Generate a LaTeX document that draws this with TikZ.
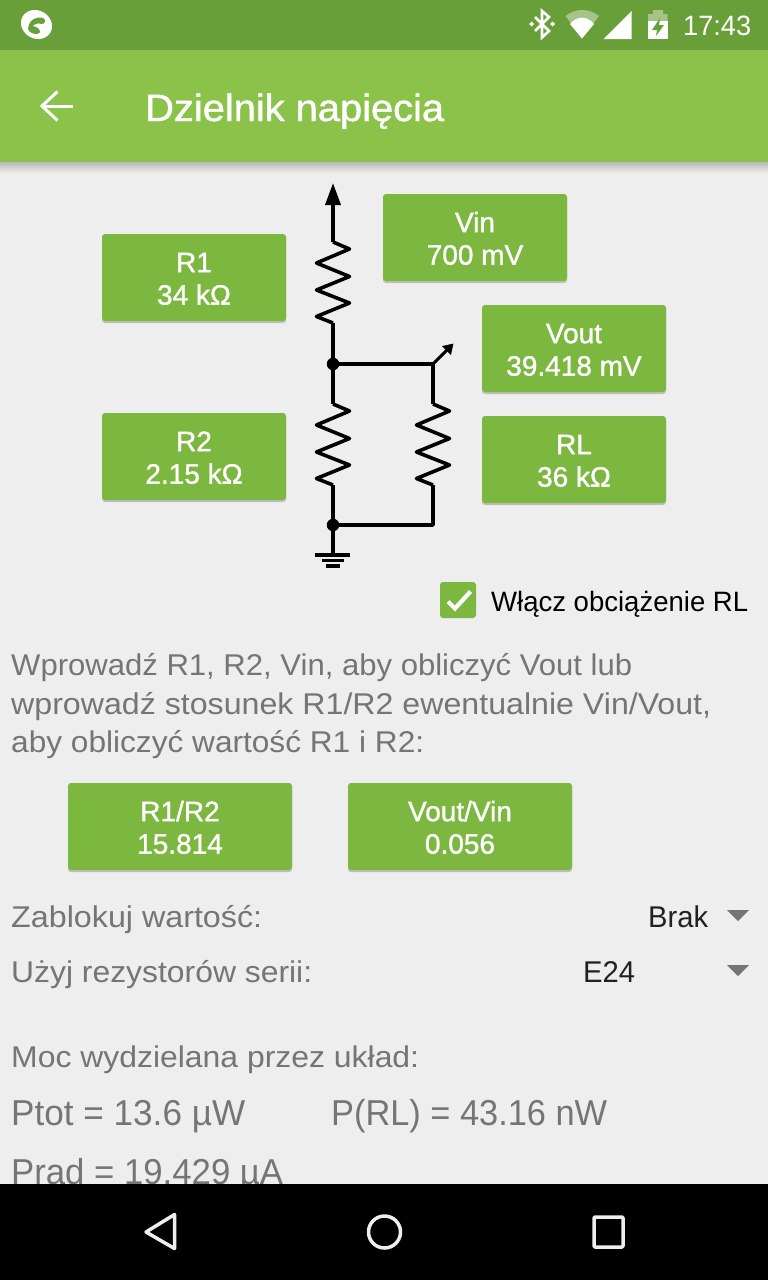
\documentclass[tikz,border=0pt]{standalone}
\usepackage{fontspec}
\setmainfont{Liberation Sans}
\newfontfamily\robm[FakeBold=1.2]{Liberation Sans}
\usetikzlibrary{arrows.meta,shadows}
\definecolor{bgc}{HTML}{EEEEEE}
\definecolor{barc}{HTML}{8BC34A}
\definecolor{statc}{HTML}{689F38}
\definecolor{btnc}{HTML}{7CB740}
\definecolor{grayt}{HTML}{757575}
\definecolor{darkt}{HTML}{212121}
\newsavebox\mybox
\newcommand\fitw[2]{\sbox\mybox{#2}\pgfmathsetmacro\myr{#1/\wd\mybox}\scalebox{\myr}[1]{\usebox\mybox}}
% name, x, baseline y, width, size, colour, text
\newcommand\lbl[7]{\node[lbl,text=#6] (#1) at (#2,#3) {\fitw{#4}{\fontsize{#5}{#5}\selectfont #7}};}
\newcommand\btxt[2]{\rule{0pt}{22pt}#1\\#2}
\tikzset{
 lbl/.style={anchor=base west,inner sep=0pt},
 wire/.style={draw=black,line width=3.6pt,line join=round},
 dot/.style={circle,fill=black,inner sep=0pt,minimum size=12.5pt},
 btn/.style={fill=btnc,rounded corners=3pt,inner sep=0pt,text=white,align=center,
   font=\fontsize{28}{32.5}\selectfont\robm,
   drop shadow={shadow xshift=0pt,shadow yshift=-2pt,opacity=.2,fill=black}},
 btnS/.style={btn,minimum width=184pt,minimum height=87pt},
 btnL/.style={btn,minimum width=224pt,minimum height=87pt},
 navi/.style={draw=bgc,line width=3.5pt,line join=round},
 zig/.pic={
   \coordinate (-a) at (0,0);
   \coordinate (-b) at (0,81);
   \draw[wire] (0,0) -- (16.5,7) -- (-16.5,21) -- (16.5,34.5) -- (-16.5,48) -- (16.5,61) -- (-16.5,74.5) -- (0,81);
 },
}
\begin{document}
\begin{tikzpicture}[x=1pt,y=-1pt]
\useasboundingbox (0,0) rectangle (768,1280);
\fill[bgc] (0,0) rectangle (768,1280);
% app bars
\shade[top color=black!28,bottom color=bgc] (0,162) rectangle (768,173);
\fill[statc] (0,0) rectangle (768,50);
\fill[barc] (0,50) rectangle (768,162);
% status icons
\fill[white,rotate around={-30:(36.5,24.5)}] (36.5,24.5) ellipse (16 and 14);
\fill[statc] (28.5,28) .. controls (28,20) and (38,15.5) .. (44,18.5) .. controls (46,21) and (45,23.5) .. (42,24) .. controls (37,22) and (33,25) .. (31,28) -- cycle;
\fill[statc,rotate around={-20:(34,30)}] (34,30) ellipse (6.5 and 3.5);
\draw[white,line width=2.6pt] (535,17) -- (549,31) -- (542,37.5) -- (542,11) -- (549,17) -- (535,31);
\fill[white] (529,24) -- (531.5,21.5) -- (534,24) -- (531.5,26.5) -- cycle (550,24) -- (552.5,21.5) -- (555,24) -- (552.5,26.5) -- cycle;
\fill[white,opacity=.4] (582,38.5) -- (565.5,16) .. controls (575,8) and (589,8) .. (599,16) -- cycle;
\fill[white] (582,38.5) -- (570,24) .. controls (577,15.5) and (587,15.5) .. (594,24) -- cycle;
\fill[white] (603.5,39) -- (631.5,39) -- (631.5,11) -- cycle;
\fill[white,opacity=.4] (653,10) rectangle (663,14) (648,14) rectangle (667.5,21);
\fill[white] (648,21) rectangle (667.5,38.5);
\fill[statc] (660,18) -- (652,30) -- (657,30) -- (656,36) -- (664,25) -- (659,25) -- cycle;
\lbl{time}{683}{35}{68}{28}{white}{17:43}
% toolbar
\draw[white,line width=3pt] (72.5,106) -- (43,106);
\draw[white,line width=3pt] (57.5,91.5) -- (42,106) -- (57.5,120.5);
\node[lbl,text=white] (title) at (145,121) {\fitw{299}{\fontsize{38}{38}\selectfont\robm Dzielnik napięcia}};
% circuit
\coordinate (tip) at (333,183);
\path (333,242) pic (r1) {zig};
\path (333,404) pic (r2) {zig};
\path (433,404) pic (rl) {zig};
\node[dot] (j1) at (333,364) {};
\node[dot] (j2) at (333,525) {};
\coordinate (c1) at (433,364);
\coordinate (c2) at (433,525);
\coordinate (out) at (453.5,343.5);
\coordinate (gnd) at (333,555);
\draw[wire,-{Triangle[length=22pt,width=15pt]}] (r1-a) -- (tip);
\draw[wire] (r1-b) -- (j1.center) -- (r2-a);
\draw[wire] (r2-b) -- (j2.center) -- (gnd);
\draw[wire] (j1.center) -- (c1) -- (rl-a);
\draw[wire] (rl-b) -- (c2) -- (j2.center);
\draw[line width=3pt,-{Triangle[length=10pt,width=12pt]}] (c1) -- (out);
\draw[wire] (315,555) -- (350,555);
\draw[wire] (322,560.5) -- (344,560.5);
\draw[wire] (326,566) -- (339.5,566);
% buttons
\node[btnS] (bR1) at (194,277.5) {\btxt{R1}{34 kΩ}};
\node[btnS] (bR2) at (194,456.5) {\btxt{R2}{2.15 kΩ}};
\node[btnS] (bVin) at (475,237.5) {\btxt{Vin}{700 mV}};
\node[btnS] (bVout) at (574,348.5) {\btxt{Vout}{39.418 mV}};
\node[btnS] (bRL) at (574,459.5) {\btxt{RL}{36 kΩ}};
\node[btnL] (bRatio) at (180,826.5) {\btxt{R1/R2}{15.814}};
\node[btnL] (bVV) at (460,826.5) {\btxt{Vout/Vin}{0.056}};
% checkbox
\node[fill=btnc,rounded corners=3pt,minimum size=36pt,inner sep=0pt] (chk) at (458,600) {};
\draw[white,line width=4.2pt] (448,601.5) -- (455,608.5) -- (470.5,591.5);
\lbl{chkt}{491}{611}{257}{28}{black}{Włącz obciążenie RL}
% texts
\lbl{t1}{11}{675.5}{621}{30}{grayt}{Wprowadź R1, R2, Vin, aby obliczyć Vout lub}
\lbl{t2}{11}{714.5}{700}{30}{grayt}{wprowadź stosunek R1/R2 ewentualnie Vin/Vout,}
\lbl{t3}{11}{752.5}{413}{30}{grayt}{aby obliczyć wartość R1 i R2:}
\lbl{t4}{11}{927.5}{251}{30}{grayt}{Zablokuj wartość:}
\lbl{t5}{648}{927.5}{60}{30}{darkt}{Brak}
\fill[grayt] (727,910) -- (749,910) -- (738,921) -- cycle;
\lbl{t6}{11}{982}{301}{30}{grayt}{Użyj rezystorów serii:}
\lbl{t7}{583}{982}{52}{30}{darkt}{E24}
\fill[grayt] (727,965) -- (749,965) -- (738,976) -- cycle;
\lbl{t8}{11}{1067}{408}{30}{grayt}{Moc wydzielana przez układ:}
\lbl{t9}{11}{1125}{234}{36}{grayt}{Ptot = 13.6 µW}
\lbl{t10}{331}{1125}{276}{36}{grayt}{P(RL) = 43.16 nW}
\lbl{t11}{11}{1184.5}{272}{36}{grayt}{Prad = 19.429 µA}
% navigation bar
\fill[black] (0,1184) rectangle (768,1280);
\draw[navi] (174.5,1214.5) -- (174.5,1248.5) -- (146,1232) -- cycle;
\draw[navi] (384.5,1232) circle (16);
\draw[navi,rounded corners=1pt] (594,1217) rectangle (623,1247);
\end{tikzpicture}
\end{document}
